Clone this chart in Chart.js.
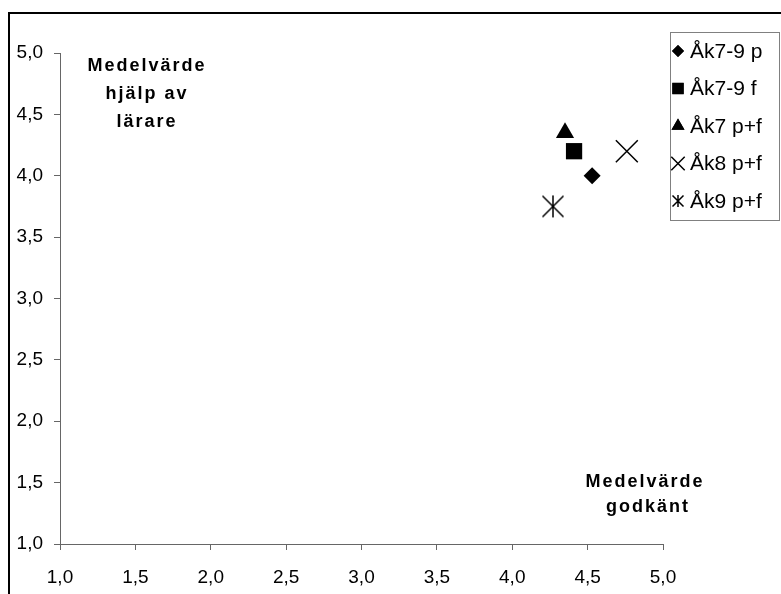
<!DOCTYPE html>
<html>
<head>
<meta charset="utf-8">
<script src="https://cdn.jsdelivr.net/npm/chart.js@4/dist/chart.umd.min.js"></script>
<style>
  html, body { margin: 0; padding: 0; background: #fff; }
  #chart { display: block; }
</style>
</head>
<body>
<canvas id="chart" width="781" height="594"></canvas>
<script>
// data
const seriesNames = ["Åk7-9 p", "Åk7-9 f", "Åk7 p+f", "Åk8 p+f", "Åk9 p+f"];
const godkant = [4.53, 4.41, 4.35, 4.76, 4.27];   // x: Medelvärde godkänt
const hjalp = [4.0, 4.2, 4.35, 4.2, 3.75];        // y: Medelvärde hjälp av lärare
const tickValues = [1.0, 1.5, 2.0, 2.5, 3.0, 3.5, 4.0, 4.5, 5.0];

// asterisk marker (vertical line + X), chart.js star has 8 spokes
function makeAsterisk(size, lw) {
  const c = document.createElement("canvas");
  c.width = size;
  c.height = size;
  const g = c.getContext("2d");
  const m = size / 2;
  const r = m - lw;
  g.strokeStyle = "#000";
  g.lineWidth = lw;
  g.beginPath();
  g.moveTo(m, m - r - 0.5);
  g.lineTo(m, m + r + 0.5);
  g.moveTo(m - r, m - r);
  g.lineTo(m + r, m + r);
  g.moveTo(m + r, m - r);
  g.lineTo(m - r, m + r);
  g.stroke();
  return c;
}
const asteriskBig = makeAsterisk(24, 1.5);
const asteriskSmall = makeAsterisk(14, 1.5);

// marker styles: chart marker, legend marker
const markers = [
  { style: "rectRot", radius: 8.5, legendRadius: 6 },
  { style: "rect", radius: 11.5, legendRadius: 8 },
  { style: "triangle", radius: 10.5, legendRadius: 7.5 },
  { style: "crossRot", radius: 15.5, legendRadius: 9.5 },
  { style: asteriskBig, radius: 12, legend: asteriskSmall, legendRadius: 7 },
];

const fmt = (v) => v.toFixed(1).replace(".", ",");

const datasets = seriesNames.map(function (name, i) {
  return {
    label: name,
    data: [{ x: godkant[i], y: hjalp[i] }],
    pointStyle: markers[i].style,
    pointRadius: markers[i].radius,
    pointHoverRadius: markers[i].radius,
    backgroundColor: "#000",
    borderColor: "#000",
    borderWidth: i >= 3 ? 1.5 : 0,
  };
});

// frame + white background
const framePlugin = {
  id: "frame",
  beforeDraw(chart) {
    const ctx = chart.ctx;
    ctx.save();
    ctx.fillStyle = "#fff";
    ctx.fillRect(0, 0, chart.width, chart.height);
    ctx.fillStyle = "#000";
    ctx.fillRect(8, 12, 2, chart.height - 12);
    ctx.fillRect(8, 12, chart.width - 8, 2);
    ctx.restore();
  },
};

// legend box top right + the two axis captions
const legendPlugin = {
  id: "boxLegend",
  afterDraw(chart) {
    const ctx = chart.ctx;
    ctx.save();
    ctx.strokeStyle = "#808080";
    ctx.lineWidth = 1;
    ctx.strokeRect(670.5, 32.5, 109, 188);
    ctx.font = "21px 'Liberation Sans', Arial, sans-serif";
    ctx.textBaseline = "middle";
    ctx.textAlign = "left";
    ctx.fillStyle = "#000";
    ctx.strokeStyle = "#000";
    ctx.lineWidth = 1.5;
    seriesNames.forEach(function (name, i) {
      const y = 51 + i * 37.5;
      const m = markers[i];
      Chart.helpers.drawPoint(ctx, {
        pointStyle: m.legend || m.style,
        radius: m.legendRadius,
        borderWidth: i >= 3 ? 1.5 : 0,
      }, 678, y);
      if (i < 3) ctx.fill();
      ctx.fillText(name, 690, y + 1);
    });

    ctx.font = "bold 18px 'Liberation Sans', Arial, sans-serif";
    ctx.textAlign = "center";
    ctx.letterSpacing = "2px";
    ctx.fillText("Medelvärde", 147, 66);
    ctx.fillText("hjälp av", 147, 94);
    ctx.fillText("lärare", 147, 122);
    ctx.fillText("Medelvärde", 645, 482);
    ctx.fillText("godkänt", 648, 507);
    ctx.restore();
  },
};

const axisFont = { family: "'Liberation Sans', Arial, sans-serif", size: 19 };

// config
const config = {
  type: "scatter",
  data: { datasets },
  options: {
    responsive: false,
    animation: false,
    layout: { padding: { left: 9, top: 53, right: 118, bottom: 0 } },
    plugins: {
      legend: { display: false },
      tooltip: { enabled: false },
    },
    scales: {
      x: {
        min: 1,
        max: 5,
        afterBuildTicks: (s) => { s.ticks = tickValues.map((v) => ({ value: v })); },
        afterFit: (s) => { s.height = 50; },
        border: { color: "#666", width: 1 },
        grid: { drawOnChartArea: false, drawTicks: true, tickLength: 6, color: "#666" },
        ticks: { color: "#000", font: axisFont, padding: 16, maxRotation: 0, callback: fmt },
      },
      y: {
        min: 1,
        max: 5,
        afterBuildTicks: (s) => { s.ticks = tickValues.map((v) => ({ value: v })); },
        afterFit: (s) => { s.width = 51; },
        border: { color: "#666", width: 1 },
        grid: { drawOnChartArea: false, drawTicks: true, tickLength: 6, color: "#666" },
        ticks: { color: "#000", font: axisFont, padding: 11, callback: fmt },
      },
    },
  },
  plugins: [framePlugin, legendPlugin],
};

// render
const myChart = new Chart(document.getElementById("chart"), config);
</script>
</body>
</html>
